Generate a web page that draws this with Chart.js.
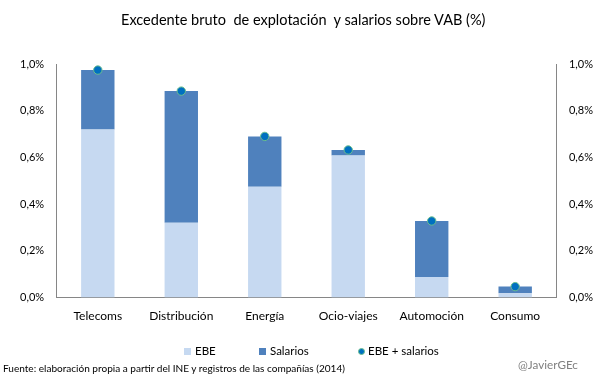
<!DOCTYPE html>
<html>
<head>
<meta charset="utf-8">
<script src="https://cdn.jsdelivr.net/npm/chart.js@4"></script>
<style>
  html, body { margin: 0; padding: 0; background: #fff; }
  #wrap { position: relative; width: 605px; height: 378px; }
  canvas { position: absolute; left: 0; top: 0; }
  .txt { position: absolute; white-space: pre; font-family: Lato, "Open Sans", sans-serif; color: #000; line-height: 1; }
  .leg { position: absolute; display: flex; align-items: center; font-family: Lato, sans-serif; font-size: 11.5px; line-height: 1; height: 12px; }
  .sw { display: inline-block; width: 7px; height: 7px; margin-right: 4px; }
  .dot { display: inline-block; width: 7px; height: 7px; border-radius: 50%; margin-right: 3px; box-sizing: border-box; }
</style>
</head>
<body>
<div id="wrap">
  <canvas id="c" width="605" height="378"></canvas>
  <div class="txt" id="title" style="left:121px; top:13px;">Excedente bruto  de explotación  y salarios sobre VAB (%)</div>
  <div class="txt" id="source" style="left:3px; top:363px;">Fuente: elaboración propia a partir del INE y registros de las compañías (2014)</div>
  <div class="txt" id="credit" style="left:518px; top:359px; color:#808080;">@JavierGEc</div>
  <div id="legend"></div>
</div>
<script>
const categories = ["Telecoms", "Distribución", "Energía", "Ocio-viajes", "Automoción", "Consumo"];
const ebe      = [0.72, 0.32, 0.474, 0.608, 0.088, 0.019];
const salarios = [0.254, 0.564, 0.216, 0.024, 0.24, 0.028];
const total    = [0.974, 0.884, 0.69, 0.632, 0.328, 0.047];
const seriesNames = ["EBE", "Salarios", "EBE + salarios"];
const yTicks = [0, 0.2, 0.4, 0.6, 0.8, 1.0];

function fitFont(el, family, targetWidth) {
  const ctx = document.createElement('canvas').getContext('2d');
  ctx.font = '100px ' + family;
  const w = ctx.measureText(el.textContent).width;
  el.style.fontSize = (100 * targetWidth / w).toFixed(2) + 'px';
}

const fmt = v => v.toFixed(1).replace('.', ',') + '%';
const axisColor = '#868686';
const xFont = { family: 'Lato', size: 12 };
const yFont = { family: 'Lato', size: 11 };

const commonY = {
  min: 0, max: 1,
  grid: { display: false, drawTicks: false },
  border: { display: true, color: axisColor, width: 1 },
  ticks: {
    padding: 12, color: '#000', font: yFont,
    callback: v => fmt(v)
  },
  afterBuildTicks: s => { s.ticks = yTicks.map(v => ({ value: v })); }
};

Promise.all([document.fonts.load('12px Lato')]).then(() => {
  fitFont(document.getElementById('title'), 'Lato', 366);
  fitFont(document.getElementById('source'), 'Lato', 343);
  fitFont(document.getElementById('credit'), 'Lato', 60);

  const chart = new Chart(document.getElementById('c'), {
    data: {
      labels: categories,
      datasets: [
        { type: 'bar', label: seriesNames[0], data: ebe, backgroundColor: '#c6d9f1', stack: 's', order: 2,
          barPercentage: 0.4, categoryPercentage: 1 },
        { type: 'bar', label: seriesNames[1], data: salarios, backgroundColor: '#4f81bd', stack: 's', order: 2,
          barPercentage: 0.4, categoryPercentage: 1 },
        { type: 'line', label: seriesNames[2], data: total, stack: 'dots', order: 1, showLine: false,
          pointRadius: 4.2, pointHoverRadius: 4.2, pointBackgroundColor: '#0070c0',
          pointBorderColor: '#6cbf8e', pointBorderWidth: 1 }
      ]
    },
    options: {
      responsive: false,
      animation: false,
      events: [],
      layout: { padding: { left: 8, right: 0, top: 64, bottom: 44 } },
      plugins: { legend: { display: false }, title: { display: false }, tooltip: { enabled: false } },
      scales: {
        x: {
          stacked: true,
          grid: { display: false, drawTicks: false },
          border: { display: true, color: axisColor, width: 1 },
          ticks: { padding: 11, color: '#000', font: xFont, maxRotation: 0 }
        },
        y: Object.assign({ stacked: true, position: 'left' }, commonY),
        y2: Object.assign({ position: 'right' }, commonY)
      }
    }
  });

  // HTML legend built from the datasets
  const legend = document.getElementById('legend');
  const legendX = [184, 259, 358];
  chart.data.datasets.forEach((ds, i) => {
    const item = document.createElement('div');
    item.className = 'leg';
    item.style.left = legendX[i] + 'px';
    item.style.top = '345px';
    const mark = document.createElement('span');
    if (ds.type === 'line') {
      mark.className = 'dot';
      mark.style.background = ds.pointBackgroundColor;
      mark.style.border = '1px solid ' + ds.pointBorderColor;
    } else {
      mark.className = 'sw';
      mark.style.background = ds.backgroundColor;
    }
    const t = document.createElement('span');
    t.textContent = ds.label;
    item.appendChild(mark);
    item.appendChild(t);
    legend.appendChild(item);
  });
});
</script>
</body>
</html>
